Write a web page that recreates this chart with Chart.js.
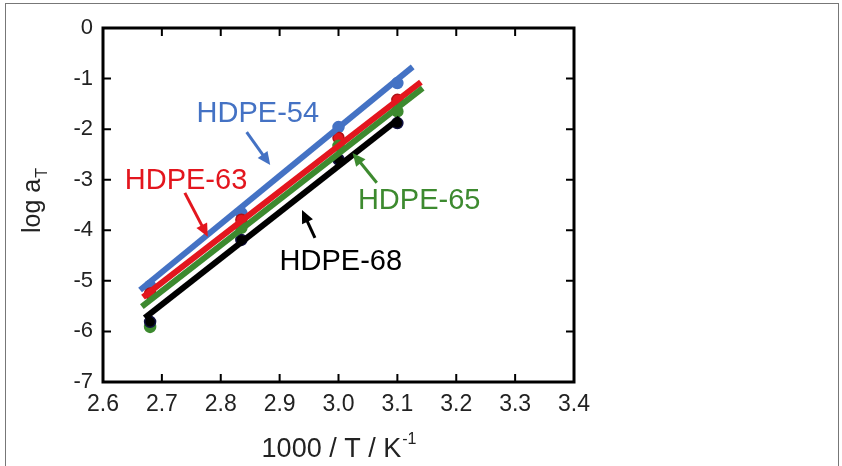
<!DOCTYPE html>
<html>
<head>
<meta charset="utf-8">
<script src="https://cdn.jsdelivr.net/npm/chart.js@4.4.0/dist/chart.umd.min.js"></script>
<style>
  html, body { margin: 0; padding: 0; background: #fff; }
  #wrap { position: relative; width: 842px; height: 466px; overflow: hidden; }
  #frame { position: absolute; left: 5px; top: 3px; width: 834px; height: 480px; border: 1px solid #777; box-sizing: border-box; }
  canvas { position: absolute; left: 0; top: 0; }
</style>
</head>
<body>
<div id="wrap">
  <div id="frame"></div>
  <canvas id="chart" width="842" height="466"></canvas>
</div>
<script>
// measured temperatures (1000/T)
const invT = [2.68, 2.835, 3.0, 3.1];

const hdpe54 = [-5.1, -3.66, -1.96, -1.09];
const hdpe63 = [-5.25, -3.79, -2.17, -1.42];
const hdpe65 = [-5.91, -3.95, -2.33, -1.65];
const hdpe68 = [-5.81, -4.19, -2.6, -1.88];

// fitted lines (end points)
const fit54 = [[2.663, -5.18], [3.126, -0.77]];
const fit63 = [[2.668, -5.32], [3.14, -1.07]];
const fit65 = [[2.666, -5.51], [3.143, -1.19]];
const fit68 = [[2.671, -5.73], [3.104, -1.78]];

const xTicks = [2.6, 2.7, 2.8, 2.9, 3.0, 3.1, 3.2, 3.3, 3.4];
const yTicks = [0, -1, -2, -3, -4, -5, -6, -7];

// labels and arrows: [text, x, y, tailX, tailY, headX, headY]
const labels = [
  ['HDPE-54', 2.863, -1.70, 2.844, -2.06, 2.884, -2.71],
  ['HDPE-63', 2.741, -3.02, 2.739, -3.26, 2.778, -4.13],
  ['HDPE-65', 3.137, -3.42, 3.065, -3.06, 3.024, -2.47],
  ['HDPE-68', 3.004, -4.62, 2.96, -4.15, 2.938, -3.60]
];

const colors = ['#4472c4', '#e3161e', '#3d8a2f', '#000000'];
const FONT = '"Liberation Sans", Arial, sans-serif';

const pts = (ys) => invT.map((x, i) => ({ x: x, y: ys[i] }));
const seg = (f) => f.map(p => ({ x: p[0], y: p[1] }));

function pointSet(ys, c, edge) {
  return { type: 'scatter', data: pts(ys), pointRadius: 5.5, pointHoverRadius: 5.5,
    backgroundColor: c, borderColor: edge, borderWidth: 1.5 };
}
function lineSet(f, c) {
  return { type: 'line', data: seg(f), showLine: true, pointRadius: 0,
    borderColor: c, borderWidth: 6, fill: false };
}

function arrow(ctx, x1, y1, x2, y2, c) {
  const a = Math.atan2(y2 - y1, x2 - x1);
  const len = 13, w = 6;
  ctx.strokeStyle = c;
  ctx.fillStyle = c;
  ctx.lineWidth = 3;
  ctx.beginPath();
  ctx.moveTo(x1, y1);
  ctx.lineTo(x2 - Math.cos(a) * len * 0.8, y2 - Math.sin(a) * len * 0.8);
  ctx.stroke();
  ctx.beginPath();
  ctx.moveTo(x2, y2);
  ctx.lineTo(x2 - Math.cos(a) * len - Math.sin(a) * w, y2 - Math.sin(a) * len + Math.cos(a) * w);
  ctx.lineTo(x2 - Math.cos(a) * len + Math.sin(a) * w, y2 - Math.sin(a) * len - Math.cos(a) * w);
  ctx.closePath();
  ctx.fill();
}

const decor = {
  id: 'decor',
  afterDatasetsDraw(chart) {
    const ctx = chart.ctx;
    const a = chart.chartArea;
    const xs = chart.scales.x, ys = chart.scales.y;
    ctx.save();
    // inward ticks
    ctx.strokeStyle = '#000';
    ctx.lineWidth = 2;
    ctx.beginPath();
    xTicks.forEach(v => {
      const px = xs.getPixelForValue(v);
      ctx.moveTo(px, a.bottom); ctx.lineTo(px, a.bottom - 8);
      ctx.moveTo(px, a.top); ctx.lineTo(px, a.top + 8);
    });
    yTicks.forEach(v => {
      const py = ys.getPixelForValue(v);
      ctx.moveTo(a.left, py); ctx.lineTo(a.left + 8, py);
      ctx.moveTo(a.right, py); ctx.lineTo(a.right - 8, py);
    });
    ctx.stroke();
    // frame
    ctx.lineWidth = 3;
    ctx.strokeRect(a.left, a.top, a.right - a.left, a.bottom - a.top);

    // labels with arrows
    labels.forEach((l, i) => {
      ctx.fillStyle = colors[i];
      ctx.font = '29px ' + FONT;
      ctx.textAlign = 'center';
      ctx.textBaseline = 'middle';
      ctx.fillText(l[0], xs.getPixelForValue(l[1]), ys.getPixelForValue(l[2]));
      arrow(ctx, xs.getPixelForValue(l[3]), ys.getPixelForValue(l[4]),
        xs.getPixelForValue(l[5]), ys.getPixelForValue(l[6]), colors[i]);
    });

    // x title with superscript
    ctx.fillStyle = '#222';
    ctx.textBaseline = 'alphabetic';
    ctx.textAlign = 'left';
    ctx.font = '27px ' + FONT;
    const main = '1000 / T / K';
    const wMain = ctx.measureText(main).width;
    ctx.font = '16px ' + FONT;
    const wSup = ctx.measureText('-1').width;
    const cx = (a.left + a.right) / 2;
    const x0 = cx - (wMain + wSup) / 2;
    ctx.font = '27px ' + FONT;
    ctx.fillText(main, x0, 457);
    ctx.font = '16px ' + FONT;
    ctx.fillText('-1', x0 + wMain + 1, 444);

    // y title with subscript
    ctx.translate(40, (a.top + a.bottom) / 2);
    ctx.rotate(-Math.PI / 2);
    ctx.font = '25px ' + FONT;
    const wLog = ctx.measureText('log a').width;
    ctx.font = '16px ' + FONT;
    const wSub = ctx.measureText('T').width;
    const y0 = -(wLog + wSub) / 2 + 4;
    ctx.font = '25px ' + FONT;
    ctx.fillText('log a', y0, 0);
    ctx.font = '16px ' + FONT;
    ctx.fillText('T', y0 + wLog + 1, 7);
    ctx.restore();
  }
};

new Chart(document.getElementById('chart'), {
  type: 'scatter',
  data: {
    datasets: [
      lineSet(fit68, colors[3]),
      lineSet(fit65, colors[2]),
      lineSet(fit63, colors[1]),
      lineSet(fit54, colors[0]),
      pointSet(hdpe68, colors[3], '#101040'),
      pointSet(hdpe65, colors[2], colors[2]),
      pointSet(hdpe63, colors[1], '#b01015'),
      pointSet(hdpe54, colors[0], colors[0])
    ]
  },
  options: {
    responsive: false,
    animation: false,
    layout: { padding: { top: 28, right: 268, left: 0, bottom: 0 } },
    plugins: { legend: { display: false }, tooltip: { enabled: false } },
    scales: {
      x: {
        type: 'linear', min: 2.6, max: 3.4,
        afterBuildTicks: (s) => { s.ticks = xTicks.map(v => ({ value: v })); },
        afterFit: (s) => { s.height = 84; },
        grid: { display: false, drawTicks: false },
        border: { display: false },
        ticks: { padding: 9, color: '#222', font: { family: FONT, size: 23 },
          maxRotation: 0, callback: (v) => Number(v).toFixed(1) }
      },
      y: {
        type: 'linear', min: -7, max: 0,
        afterBuildTicks: (s) => { s.ticks = yTicks.map(v => ({ value: v })); },
        afterFit: (s) => { s.width = 103; },
        grid: { display: false, drawTicks: false },
        border: { display: false },
        ticks: { padding: 10, color: '#222', font: { family: FONT, size: 22 },
          callback: (v) => String(v) }
      }
    }
  },
  plugins: [decor]
});
</script>
</body>
</html>
